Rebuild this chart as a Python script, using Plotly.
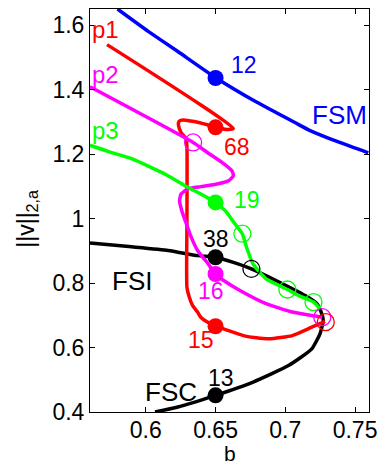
import plotly.graph_objects as go

# ---- data ----
fsm_b = [0.5797, 0.602, 0.623, 0.6504, 0.679, 0.7072, 0.7178, 0.739, 0.7595]
fsm_v = [1.650, 1.580, 1.518, 1.436, 1.362, 1.297, 1.273, 1.236, 1.204]

p1_b = [0.5722, 0.6627, 0.658, 0.6504, 0.6441, 0.6347, 0.6266, 0.6237, 0.6235, 0.6253, 0.6288, 0.6295,
        0.6295, 0.6295, 0.6312, 0.6336, 0.6371, 0.6394, 0.6441, 0.6504, 0.6581, 0.6699, 0.6792,
        0.6886, 0.7050, 0.7190, 0.7285]
p1_v = [1.5395, 1.280, 1.276, 1.283, 1.291, 1.301, 1.306, 1.301, 1.288, 1.267, 1.247, 1.2205,
        1.000, 0.786, 0.756, 0.730, 0.710, 0.694, 0.679, 0.666, 0.654, 0.637, 0.630,
        0.627, 0.637, 0.663, 0.681]

p2_b = [0.560, 0.6339, 0.6441, 0.6546, 0.6617, 0.6628, 0.6593, 0.6511, 0.6394, 0.6300, 0.6253,
        0.6242, 0.6258, 0.6288, 0.6321, 0.6371, 0.6441, 0.6499, 0.6558, 0.6675, 0.6862, 0.7050,
        0.7190, 0.7265]
p2_v = [1.4085, 1.236, 1.205, 1.174, 1.148, 1.133, 1.117, 1.107, 1.099, 1.092, 1.076,
        1.055, 1.0245, 0.987, 0.947, 0.901, 0.863, 0.828, 0.808, 0.777, 0.736, 0.710,
        0.699, 0.694]

p3_b = [0.560, 0.5738, 0.5902, 0.6146, 0.6300, 0.6394, 0.6499, 0.6569, 0.6640, 0.6692, 0.6722,
        0.6769, 0.6862, 0.7015, 0.7096, 0.7202, 0.7249]
p3_v = [1.2273, 1.207, 1.185, 1.136, 1.097, 1.076, 1.050, 1.0245, 0.983, 0.953, 0.911,
        0.859, 0.813, 0.780, 0.761, 0.741, 0.720]

fs_b = [0.560, 0.5879, 0.6160, 0.6371, 0.6499, 0.6628, 0.6757, 0.6933, 0.7143, 0.7226, 0.7261,
        0.7272, 0.7249, 0.7190, 0.7026, 0.6769, 0.6499, 0.6230, 0.6066]
fs_v = [0.9245, 0.913, 0.901, 0.885, 0.880, 0.864, 0.844, 0.808, 0.761, 0.736, 0.705,
        0.684, 0.643, 0.596, 0.545, 0.493, 0.4516, 0.4155, 0.400]

# filled points (solution labels)
dot_b = [0.650, 0.650, 0.650, 0.650, 0.650, 0.650, 0.650]
dot_v = [1.436, 1.283, 1.050, 0.880, 0.828, 0.666, 0.4516]
dot_c = ["#0000ff", "#ff0000", "#00ff00", "#000000", "#ff00ff", "#ff0000", "#000000"]
dot_lab = ["12", "68", "19", "38", "16", "15", "13"]
lab_b = [0.6593, 0.6546, 0.6617, 0.650, 0.647, 0.6394, 0.654]
lab_v = [1.477, 1.223, 1.059, 0.938, 0.774, 0.622, 0.507]
lab_anchor = ["left", "left", "left", "center", "center", "center", "center"]

# open circles (fold points)
ring_b = [0.6339, 0.6757, 0.6692, 0.7015, 0.7202, 0.7265, 0.7290]
ring_v = [1.236, 0.844, 0.953, 0.780, 0.741, 0.694, 0.679]
ring_c = ["#ff00ff", "#000000", "#00ff00", "#00ff00", "#00ff00", "#ff00ff", "#ff0000"]

# curve names
name_txt = ["p1", "p2", "p3", "FSM", "FSI", "FSC"]
name_b = [0.5600, 0.5600, 0.5600, 0.7179, 0.5745, 0.5977]
name_v = [1.585, 1.446, 1.272, 1.322, 0.805, 0.462]
name_c = ["#ff0000", "#ff00ff", "#00ff00", "#0000ff", "#000000", "#000000"]
name_size = [24, 24, 24, 26, 26, 26]

x_ticks = [0.6, 0.65, 0.7, 0.75]
x_tick_text = ["0.6", "0.65", "0.7", "0.75"]
y_ticks = [0.4, 0.6, 0.8, 1.0, 1.2, 1.4, 1.6]
y_tick_text = ["0.4", "0.6", "0.8", "1", "1.2", "1.4", "1.6"]

FONT = "Liberation Sans, Arial, Helvetica, sans-serif"

fig = go.Figure()
LW = 3.5
for bx, vy, col in [(fsm_b, fsm_v, "#0000ff"), (fs_b, fs_v, "#000000"),
                    (p1_b, p1_v, "#ff0000"), (p2_b, p2_v, "#ff00ff"), (p3_b, p3_v, "#00ff00")]:
    fig.add_trace(go.Scatter(x=bx, y=vy, mode="lines",
                             line=dict(color=col, width=LW, shape="spline", smoothing=0.5),
                             hoverinfo="skip", showlegend=False))

fig.add_trace(go.Scatter(x=ring_b, y=ring_v, mode="markers",
                         marker=dict(symbol="circle-open", size=17, color=ring_c, line=dict(width=1.3)),
                         showlegend=False, hoverinfo="skip"))
fig.add_trace(go.Scatter(x=dot_b, y=dot_v, mode="markers",
                         marker=dict(symbol="circle", size=16, color=dot_c),
                         showlegend=False, hoverinfo="skip"))

for t, bx, vy, col, anc in zip(dot_lab, lab_b, lab_v, dot_c, lab_anchor):
    fig.add_annotation(x=bx, y=vy, text=t, showarrow=False, xanchor=anc, yanchor="middle",
                       font=dict(family=FONT, size=23, color=col))
for t, bx, vy, col, sz in zip(name_txt, name_b, name_v, name_c, name_size):
    fig.add_annotation(x=bx, y=vy, text=t, showarrow=False, xanchor="left", yanchor="middle",
                       font=dict(family=FONT, size=sz, color=col))

# axis titles
fig.add_annotation(xref="paper", yref="paper", x=0.5, y=-0.104, text="b", showarrow=False,
                   xanchor="center", yanchor="middle", borderpad=0,
                   font=dict(family=FONT, size=21, color="black"))
fig.add_annotation(xref="paper", yref="paper", x=-0.225, y=0.48, text="||v||<sub>2,a</sub>", showarrow=False,
                   textangle=-90, xanchor="center", yanchor="middle",
                   font=dict(family=FONT, size=23, color="black"))

axis_common = dict(showgrid=False, zeroline=False, showline=True, linecolor="black", linewidth=1,
                   mirror="ticks", ticks="inside", ticklen=5, tickcolor="black", tickwidth=1,
                   tickfont=dict(family=FONT, size=23, color="black"))
fig.update_xaxes(range=[0.56, 0.76], tickvals=x_ticks, ticktext=x_tick_text,
                 ticklabelstandoff=-3, **axis_common)
fig.update_yaxes(range=[0.4, 1.65], tickvals=y_ticks, ticktext=y_tick_text, **axis_common)

fig.update_layout(width=385, height=468, margin=dict(l=90, r=10, t=8, b=56),
                  paper_bgcolor="white", plot_bgcolor="white", showlegend=False)

fig.write_html("out.html")
